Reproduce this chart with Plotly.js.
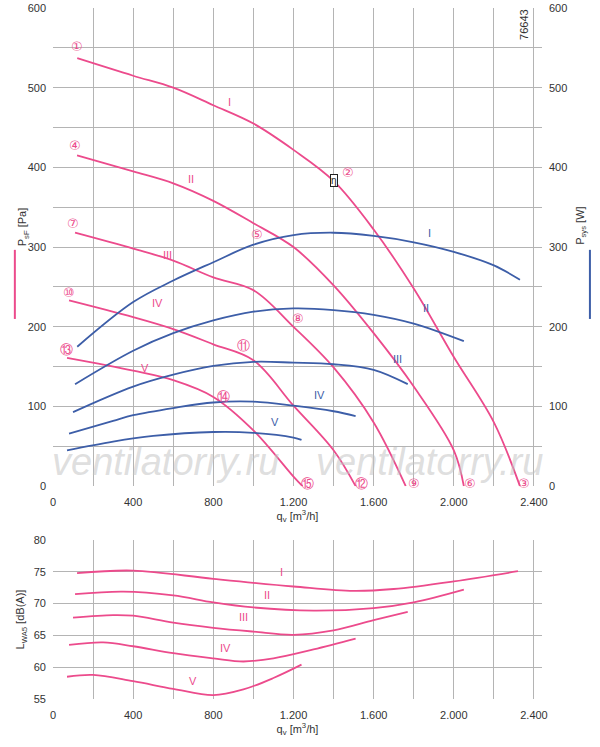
<!DOCTYPE html>
<html>
<head>
<meta charset="utf-8">
<script src="https://cdn.plot.ly/plotly-3.0.1.min.js"></script>
<style>body{margin:0;background:#fff}</style>
</head>
<body>
<div id="plot" style="width:600px;height:747px"></div>
<script>
// pressure curves (x = qv, y = Pa)
var pI_x = [121, 400, 600, 800, 1000, 1200, 1400, 1600, 1800, 2000, 2200, 2330]
var pI_y = [537, 515, 500, 478, 455, 422, 383, 322, 248, 162, 80, 0]
var pII_x = [120, 400, 600, 800, 1000, 1200, 1400, 1600, 1800, 2000, 2050]
var pII_y = [415, 395, 380, 358, 330, 300, 252, 192, 125, 45, 0]
var pIII_x = [110, 400, 600, 800, 1000, 1200, 1400, 1600, 1760]
var pIII_y = [318, 298, 283, 262, 246, 200, 149, 80, 0]
var pIV_x = [80, 400, 600, 800, 1000, 1200, 1400, 1510]
var pIV_y = [233, 212, 197, 178, 158, 101, 45, 0]
var pV_x = [70, 400, 600, 800, 1000, 1200, 1245]
var pV_y = [161, 145, 133, 112, 70, 12, 0]

// power curves (W)
var wI_x = [121, 400, 600, 800, 1000, 1200, 1400, 1600, 1800, 2000, 2200, 2330]
var wI_y = [175, 231, 258, 281, 303, 315, 318, 314, 306, 294, 277, 259]
var wII_x = [110, 400, 600, 800, 1000, 1200, 1400, 1600, 1800, 2050]
var wII_y = [128, 170, 192, 208, 219, 223, 221, 215, 204, 182]
var wIII_x = [100, 400, 600, 800, 1000, 1200, 1400, 1600, 1770]
var wIII_y = [93, 125, 140, 151, 156, 155, 153, 146, 128]
var wIV_x = [80, 300, 400, 600, 800, 1000, 1200, 1400, 1510]
var wIV_y = [66, 82, 89, 98, 105, 106, 101, 94, 88]
var wV_x = [70, 300, 500, 800, 1000, 1200, 1240]
var wV_y = [45, 56, 63, 68, 67, 61, 58]

// sound power (dB(A))
var lI_x = [120, 400, 800, 1200, 1500, 1700, 2000, 2320]
var lI_y = [74.8, 75.2, 73.9, 72.7, 72.0, 72.3, 73.5, 75.1]
var lII_x = [110, 350, 600, 800, 1000, 1300, 1600, 1800, 2050]
var lII_y = [71.5, 71.9, 71.3, 70.2, 69.4, 68.9, 69.3, 70.2, 72.2]
var lIII_x = [100, 300, 400, 600, 800, 1000, 1200, 1400, 1600, 1770]
var lIII_y = [67.8, 68.2, 68.1, 67.0, 66.2, 65.6, 65.1, 65.8, 67.4, 68.7]
var lIV_x = [80, 250, 400, 600, 800, 950, 1100, 1300, 1510]
var lIV_y = [63.5, 63.9, 63.3, 62.2, 61.4, 60.9, 61.4, 62.8, 64.5]
var lV_x = [70, 200, 400, 600, 800, 950, 1100, 1240]
var lV_y = [58.5, 58.8, 57.8, 56.6, 55.6, 56.5, 58.3, 60.4]

var romans = ['I', 'II', 'III', 'IV', 'V']
var pink = '#ec4b8c'
var blue = '#3d5ea8'
var gridc = '#b4b4b4'
var txt = '#333'

var data = []
function addLine(x, y, color, xa, ya) {
    data.push({x: x, y: y, xaxis: xa, yaxis: ya, type: 'scatter', mode: 'lines',
        line: {color: color, width: 1.8, shape: 'spline', smoothing: 1}, hoverinfo: 'skip'})
}
addLine(pI_x, pI_y, pink, 'x', 'y'); addLine(pII_x, pII_y, pink, 'x', 'y')
addLine(pIII_x, pIII_y, pink, 'x', 'y'); addLine(pIV_x, pIV_y, pink, 'x', 'y')
addLine(pV_x, pV_y, pink, 'x', 'y')
addLine(wI_x, wI_y, blue, 'x', 'y2'); addLine(wII_x, wII_y, blue, 'x', 'y2')
addLine(wIII_x, wIII_y, blue, 'x', 'y2'); addLine(wIV_x, wIV_y, blue, 'x', 'y2')
addLine(wV_x, wV_y, blue, 'x', 'y2')
addLine(lI_x, lI_y, pink, 'x3', 'y3'); addLine(lII_x, lII_y, pink, 'x3', 'y3')
addLine(lIII_x, lIII_y, pink, 'x3', 'y3'); addLine(lIV_x, lIV_y, pink, 'x3', 'y3')
addLine(lV_x, lV_y, pink, 'x3', 'y3')

// label positions
var pLab = [[880, 482], [690, 385], [570, 290], [520, 230], [460, 148]]
var wLab = [[1880, 318], [1860, 224], [1720, 159], [1330, 115], [1110, 80]]
var lLab = [[1140, 75.0], [1070, 71.3], [950, 67.9], [860, 63.1], [700, 57.8]]
var circ = [['①', 120, 552], ['②', 1470, 393], ['③', 2350, 3], ['④', 110, 427], ['⑤', 1020, 316],
    ['⑥', 2080, 3], ['⑦', 100, 330], ['⑧', 1220, 211], ['⑨', 1800, 3], ['⑩', 80, 243],
    ['⑪', 950, 177], ['⑫', 1540, 3], ['⑬', 65, 171], ['⑭', 850, 113], ['⑮', 1270, 3]]

var ann = []
romans.forEach(function (r, i) {
    ann.push({x: pLab[i][0], y: pLab[i][1], xref: 'x', yref: 'y', text: r, showarrow: false, font: {color: pink, size: 11}})
    ann.push({x: wLab[i][0], y: wLab[i][1], xref: 'x', yref: 'y', text: r, showarrow: false, font: {color: blue, size: 11}})
    ann.push({x: lLab[i][0], y: lLab[i][1], xref: 'x3', yref: 'y3', text: r, showarrow: false, font: {color: pink, size: 11}})
})
circ.forEach(function (c) {
    ann.push({x: c[1], y: c[2], xref: 'x', yref: 'y', text: c[0], showarrow: false,
        font: {color: pink, size: 13, family: 'DejaVu Sans'}})
})
ann.push({x: 1400, y: 383, xref: 'x', yref: 'y', text: 'η', showarrow: false, font: {color: '#222', size: 10},
    bordercolor: '#222', borderwidth: 1, borderpad: 0, bgcolor: '#fff'})
ann.push({x: 2350, y: 580, xref: 'x', yref: 'y', text: '76643', textangle: -90, showarrow: false, font: {color: txt, size: 11}})
ann.push({x: 560, y: 30, xref: 'x', yref: 'y', text: '<i>ventilatorry.ru</i>', showarrow: false,
    font: {color: 'rgba(195,195,195,0.55)', size: 38, family: 'Liberation Sans'}})
ann.push({x: 1880, y: 30, xref: 'x', yref: 'y', text: '<i>ventilatorry.ru</i>', showarrow: false,
    font: {color: 'rgba(195,195,195,0.55)', size: 38, family: 'Liberation Sans'}})
ann.push({x: -0.078, y: 0.715, xref: 'paper', yref: 'paper', text: 'P<sub>sF</sub> [Pa]', textangle: -90, showarrow: false, font: {size: 11, color: txt}})
ann.push({x: 1.098, y: 0.715, xref: 'paper', yref: 'paper', text: 'P<sub>sys</sub> [W]', textangle: -90, showarrow: false, font: {size: 11, color: txt}})

var shapes = [
    {type: 'line', xref: 'paper', yref: 'paper', x0: -0.078, x1: -0.078, y0: 0.55, y1: 0.65, line: {color: pink, width: 2}},
    {type: 'line', xref: 'paper', yref: 'paper', x0: 1.098, x1: 1.098, y0: 0.55, y1: 0.65, line: {color: blue, width: 2}}
]

var xt = [0, 400, 800, 1200, 1600, 2000, 2400]
var xtt = ['0', '400', '800', '1.200', '1.600', '2.000', '2.400']
var commonX = {range: [0, 2440], tickvals: xt, ticktext: xtt, showgrid: true, gridcolor: gridc, zeroline: false,
    minor: {dtick: 200, tick0: 0, showgrid: true, gridcolor: gridc}, showline: false, ticks: '',
    ticklabelstandoff: 8, tickfont: {size: 11, color: txt},
    title: {text: 'q<sub>v</sub> [m<sup>3</sup>/h]', font: {size: 11, color: txt}, standoff: 2}}

var layout = {
    width: 600, height: 747, showlegend: false,
    margin: {l: 53, r: 58, t: 8, b: 48},
    paper_bgcolor: '#fff', plot_bgcolor: '#fff',
    font: {family: 'Liberation Sans, Arial, sans-serif'},
    xaxis: Object.assign({}, commonX, {anchor: 'y', domain: [0, 1]}),
    yaxis: {domain: [0.308, 1], range: [0, 600], dtick: 100, showgrid: true, gridcolor: gridc, zeroline: false,
        minor: {dtick: 50, showgrid: true, gridcolor: gridc}, tickfont: {size: 11, color: txt}, ticklabelstandoff: 6},
    yaxis2: {overlaying: 'y', side: 'right', range: [0, 600], dtick: 100, showgrid: false, zeroline: false,
        tickfont: {size: 11, color: txt}, ticklabelstandoff: 6},
    xaxis3: Object.assign({}, commonX, {anchor: 'y3', domain: [0, 1]}),
    yaxis3: {domain: [0, 0.23], range: [55, 80], dtick: 5, anchor: 'x3', showgrid: true, gridcolor: gridc, zeroline: false,
        tickfont: {size: 11, color: txt}, ticklabelstandoff: 6,
        title: {text: 'L<sub>WA5</sub> [dB(A)]', font: {size: 11, color: txt}, standoff: 6}},
    annotations: ann,
    shapes: shapes
}
Plotly.newPlot('plot', data, layout, {staticPlot: true})
</script>
</body>
</html>
